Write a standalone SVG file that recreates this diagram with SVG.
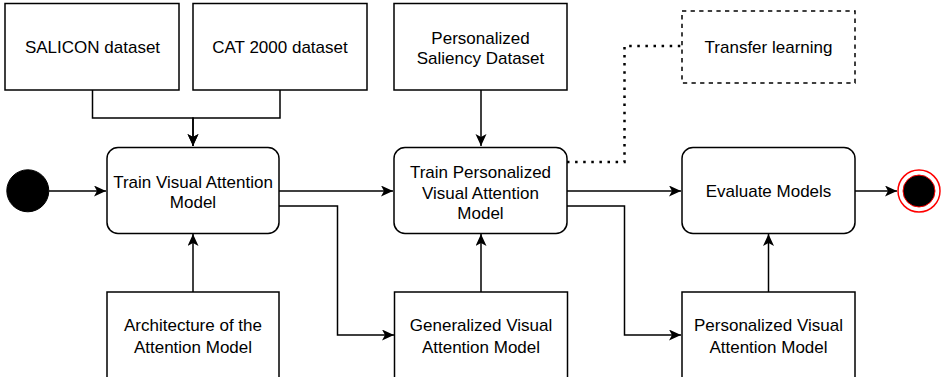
<svg xmlns="http://www.w3.org/2000/svg" width="944" height="377" viewBox="0 0 944 377">
<style>
.box{fill:#fff;stroke:#000;stroke-width:1.5}
.dash{stroke-dasharray:4.3 4.3}
.t{font-family:"Liberation Sans",Arial,Helvetica,sans-serif;font-size:17px;fill:#000;text-anchor:middle}
.e{fill:none;stroke:#000;stroke-width:1.5}
.dot{fill:none;stroke:#000;stroke-width:2.5;stroke-dasharray:2.5 5.6}
</style>
<defs>
<marker id="ah" markerUnits="userSpaceOnUse" markerWidth="14" markerHeight="12" refX="12" refY="5.5" orient="auto">
<path d="M0,0 L12,5.5 L0,11 L3,5.5 Z" fill="#000"/>
</marker>
</defs>
<rect width="944" height="377" fill="#fff"/>
<g id="connectors">
<path class="e" d="M92.5,90 V118 H193 V146" marker-end="url(#ah)"/>
<path class="e" d="M280,90 V118 H193 V146" marker-end="url(#ah)"/>
<path class="e" d="M49,191 H106" marker-end="url(#ah)"/>
<path class="e" d="M193,292 V234" marker-end="url(#ah)"/>
<path class="e" d="M279,191 H393" marker-end="url(#ah)"/>
<path class="e" d="M279,206 H337.5 V335 H394" marker-end="url(#ah)"/>
<path class="e" d="M481,90 V146" marker-end="url(#ah)"/>
<path class="e" d="M481,292 V234" marker-end="url(#ah)"/>
<path class="dot" d="M567,162 H624.5 V46 H682"/>
<path class="e" d="M567,191 H681" marker-end="url(#ah)"/>
<path class="e" d="M567,206 H624.5 V335 H681" marker-end="url(#ah)"/>
<path class="e" d="M768.5,292 V234" marker-end="url(#ah)"/>
<path class="e" d="M855,191 H897" marker-end="url(#ah)"/>
</g>
<g id="start"><circle cx="27.8" cy="190.8" r="21" fill="#000" stroke="#000" stroke-width="1"/></g>
<g id="end">
<circle cx="919" cy="191" r="21" fill="#fff" stroke="#ff0000" stroke-width="1.5"/>
<circle cx="919" cy="191" r="16" fill="#000" stroke="#ff0000" stroke-width="1"/>
</g>
<g id="salicon"><rect class="box" x="5" y="3.5" width="174" height="86.5"/><text class="t" x="92.5" y="53">SALICON dataset</text></g>
<g id="cat2000"><rect class="box" x="193" y="3.5" width="174" height="86.5"/><text class="t" x="280" y="53">CAT 2000 dataset</text></g>
<g id="personalizedDataset"><rect class="box" x="394" y="3.5" width="173" height="86.5"/><text class="t" x="480.5" y="44">Personalized</text><text class="t" x="480.5" y="64">Saliency Dataset</text></g>
<g id="transfer"><rect class="box dash" x="682" y="11" width="173" height="72"/><text class="t" x="768.5" y="53">Transfer learning</text></g>
<g id="trainVA"><rect class="box" x="107" y="147.5" width="172" height="86" rx="11"/><text class="t" x="193" y="188">Train Visual Attention</text><text class="t" x="193" y="208">Model</text></g>
<g id="trainPVA"><rect class="box" x="394" y="147.5" width="173" height="86" rx="11"/><text class="t" x="480.5" y="178">Train Personalized</text><text class="t" x="480.5" y="198.5">Visual Attention</text><text class="t" x="480.5" y="218.5">Model</text></g>
<g id="evaluate"><rect class="box" x="682" y="147.5" width="173" height="86" rx="11"/><text class="t" x="768.5" y="197">Evaluate Models</text></g>
<g id="architecture"><rect class="box" x="107" y="292" width="172" height="86"/><text class="t" x="193" y="331">Architecture of the</text><text class="t" x="193" y="352.5">Attention Model</text></g>
<g id="generalized"><rect class="box" x="394.5" y="292" width="173" height="86"/><text class="t" x="481" y="331">Generalized Visual</text><text class="t" x="481" y="352.5">Attention Model</text></g>
<g id="personalizedVA"><rect class="box" x="682" y="292" width="173" height="86"/><text class="t" x="768.5" y="331">Personalized Visual</text><text class="t" x="768.5" y="352.5">Attention Model</text></g>
</svg>
